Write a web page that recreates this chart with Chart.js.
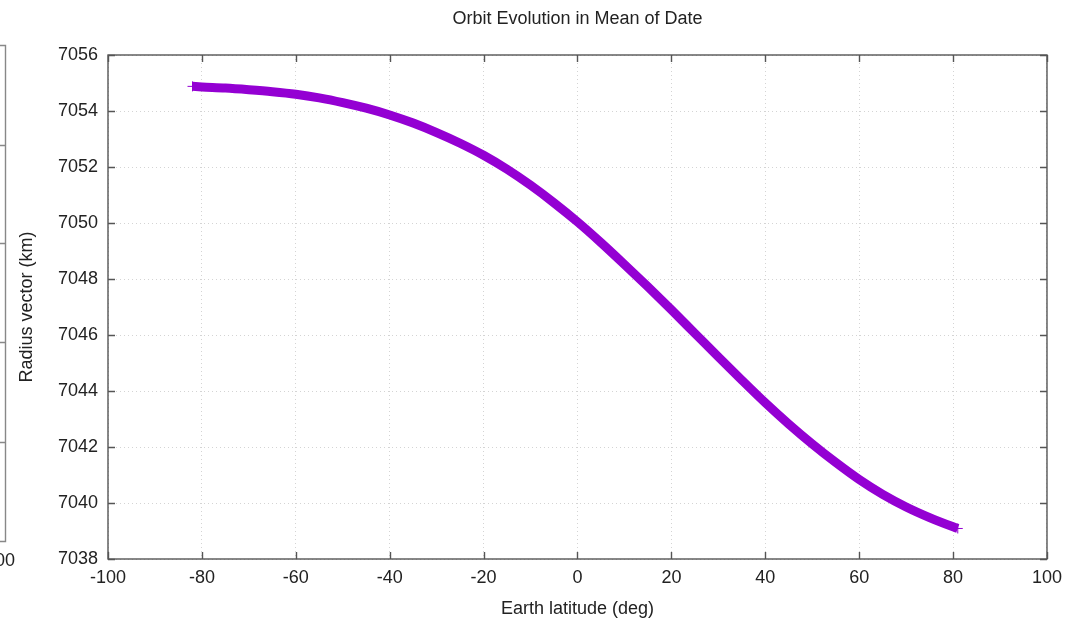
<!DOCTYPE html>
<html>
<head>
<meta charset="utf-8">
<script src="https://cdn.jsdelivr.net/npm/chart.js@4/dist/chart.umd.min.js"></script>
<style>
  html, body { margin: 0; padding: 0; background: #fff; }
  #wrap { width: 1070px; height: 624px; }
</style>
</head>
<body>
<div id="wrap"><canvas id="c" width="1070" height="624"></canvas></div>
<script>
// ---- data ----
const latitudes = [-82, -80, -75, -70, -65, -60, -55, -50, -45, -40, -35, -30, -25, -20, -15, -10, -5,
                   0, 5, 10, 15, 20, 25, 30, 35, 40, 45, 50, 55, 60, 65, 70, 75, 80, 81];
const radius = [7054.88, 7054.86, 7054.82, 7054.76, 7054.69, 7054.60, 7054.47, 7054.30, 7054.10, 7053.86,
                7053.57, 7053.23, 7052.85, 7052.42, 7051.92, 7051.35, 7050.72,
                7050.04, 7049.30, 7048.52, 7047.72, 7046.90, 7046.06, 7045.22, 7044.39, 7043.58,
                7042.82, 7042.11, 7041.45, 7040.84, 7040.31, 7039.86, 7039.48, 7039.15, 7039.09];
const xTicks = [-100, -80, -60, -40, -20, 0, 20, 40, 60, 80, 100];
const yTicks = [7038, 7040, 7042, 7044, 7046, 7048, 7050, 7052, 7054, 7056];
const titleText = 'Orbit Evolution in Mean of Date';
const xTitle = 'Earth latitude (deg)';
const yTitle = 'Radius vector (km)';
const leftFragmentLabel = '00';

const points = latitudes.map((x, i) => ({ x: x, y: radius[i] }));
const endRadius = latitudes.map((x, i) => (i === 0 || i === latitudes.length - 1) ? 5 : 0);
const FONT = "'Liberation Sans', Arial, sans-serif";
const FS = 18;
const TXT = '#222';

const framePlugin = {
  id: 'frame',
  afterDatasetsDraw(chart) {
    const { ctx, chartArea: a, scales: { x, y } } = chart;
    ctx.save();
    ctx.strokeStyle = '#555';
    ctx.lineWidth = 1.4;
    ctx.strokeRect(a.left, a.top, a.right - a.left, a.bottom - a.top);
    ctx.beginPath();
    const tl = 7;
    xTicks.forEach(v => {
      const px = Math.round(x.getPixelForValue(v)) + 0.5;
      ctx.moveTo(px, a.bottom); ctx.lineTo(px, a.bottom - tl);
      ctx.moveTo(px, a.top); ctx.lineTo(px, a.top + tl);
    });
    yTicks.forEach(v => {
      const py = Math.round(y.getPixelForValue(v)) + 0.5;
      ctx.moveTo(a.left, py); ctx.lineTo(a.left + tl, py);
      ctx.moveTo(a.right, py); ctx.lineTo(a.right - tl, py);
    });
    ctx.stroke();
    ctx.restore();
  },
  afterDraw(chart) {
    // fragment of a neighbouring plot visible at the left edge
    const ctx = chart.ctx;
    ctx.save();
    ctx.strokeStyle = '#888';
    ctx.lineWidth = 1.4;
    ctx.beginPath();
    ctx.moveTo(0, 45.5); ctx.lineTo(5.5, 45.5); ctx.lineTo(5.5, 541.5); ctx.lineTo(0, 541.5);
    [145, 243, 342, 442].forEach(py => { ctx.moveTo(0, py + 0.5); ctx.lineTo(5.5, py + 0.5); });
    ctx.stroke();
    ctx.fillStyle = TXT;
    ctx.font = FS + 'px ' + FONT;
    ctx.textBaseline = 'middle';
    ctx.textAlign = 'left';
    ctx.fillText(leftFragmentLabel, -5, 561);
    ctx.restore();
  }
};

new Chart(document.getElementById('c'), {
  type: 'line',
  data: {
    datasets: [{
      data: points,
      borderColor: '#9400d3',
      backgroundColor: '#9400d3',
      borderWidth: 9,
      cubicInterpolationMode: 'monotone',
      pointStyle: 'cross',
      pointRadius: endRadius,
      pointBorderWidth: 1,
      pointBorderColor: '#9400d3',
      fill: false
    }]
  },
  options: {
    responsive: false,
    animation: false,
    events: [],
    layout: { padding: { left: 0, right: 20, top: 0, bottom: 0 } },
    plugins: {
      legend: { display: false },
      tooltip: { enabled: false },
      title: {
        display: true,
        fullSize: false,
        text: titleText,
        color: TXT,
        font: { family: FONT, size: FS, weight: 'normal' },
        padding: { top: 8, bottom: 25.4 }
      }
    },
    scales: {
      x: {
        type: 'linear',
        min: -100, max: 100,
        afterBuildTicks: s => { s.ticks = xTicks.map(v => ({ value: v })); },
        afterFit: s => { s.height = 65; },
        ticks: { color: TXT, font: { family: FONT, size: FS }, padding: 8, maxRotation: 0, callback: v => String(v) },
        grid: { color: '#d4d4d4', lineWidth: 1, drawTicks: false },
        border: { display: false, dash: [1, 3] },
        title: { display: true, text: xTitle, color: TXT, font: { family: FONT, size: FS }, padding: { top: 0, bottom: 4 } }
      },
      y: {
        type: 'linear',
        min: 7038, max: 7056,
        afterBuildTicks: s => { s.ticks = yTicks.map(v => ({ value: v })); },
        afterFit: s => { s.width = 108; },
        ticks: { color: TXT, font: { family: FONT, size: FS }, padding: 10, callback: v => String(v) },
        grid: { color: '#d4d4d4', lineWidth: 1, drawTicks: false },
        border: { display: false, dash: [1, 3] },
        title: { display: true, text: yTitle, color: TXT, font: { family: FONT, size: FS }, padding: { top: 16, bottom: 0 } }
      }
    }
  },
  plugins: [framePlugin]
});
</script>
</body>
</html>
